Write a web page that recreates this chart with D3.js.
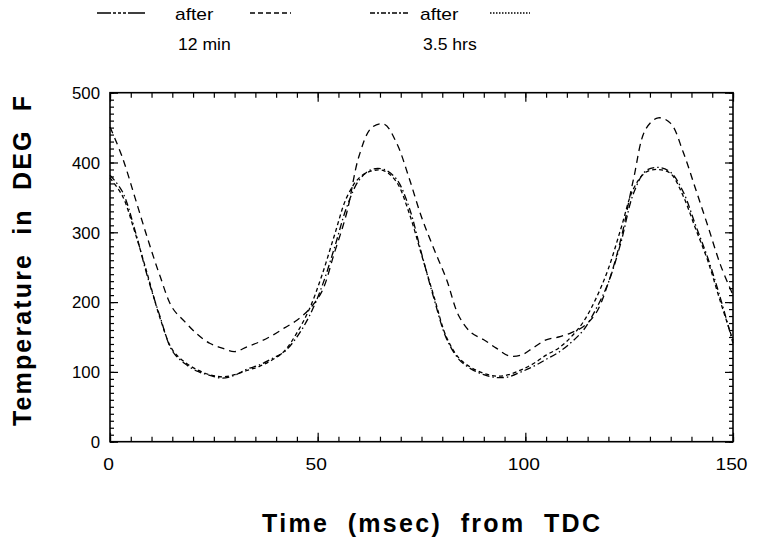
<!DOCTYPE html>
<html><head><meta charset="utf-8">
<script src="https://cdn.jsdelivr.net/npm/d3@7"></script>
<style>body{margin:0;background:#fff}svg{display:block}</style>
</head><body>
<svg id="c" width="757" height="545"></svg>
<script>
const times = [0,3,6,9,12,15,18,21,24,27,30,33,36,39,42,45,48,51,54,57,60,63,66,69,72,75,78,81,84,87,90,93,96,99,102,105,108,111,114,117,120,123,126,129,132,135,138,141,144,147,150];
const upperDashed = [451,407,350,292,238,192,172,154,141,134,129,136,143,152,163,174,190,215,270,328,410,450,455,428,378,322,276,233,180,156,146,134,123,124,135,146,150,156,165,184,228,290,375,448,464,456,415,362,308,253,210];
const lowerDashDot = [382,358,303,237,180,130,112,101,95,91,95,104,110,119,129,150,180,222,277,336,375,390,390,376,336,270,205,148,118,104,96,92,93,100,108,118,128,142,160,190,228,285,355,388,393,386,358,310,262,205,141];
const lowerDashed = [378,352,300,240,178,132,114,103,96,93,96,102,108,117,130,156,190,238,295,350,378,388,388,372,328,268,208,150,120,106,98,94,96,103,112,124,134,150,172,205,248,305,362,386,390,384,352,305,258,200,145];
const xTicks = [0,50,100,150];
const yTicks = [0,100,200,300,400,500];
const xTitle = "Time  (msec)  from  TDC";
const yTitle = "Temperature  in  DEG  F";
const legendTop = ["after","after"];
const legendBottom = ["12 min","3.5 hrs"];

const svg = d3.select("#c");
const x = d3.scaleLinear().domain([0,150]).range([110,733]);
const y = d3.scaleLinear().domain([0,500]).range([441.7,92.7]);
const L = 110, R = 733, T = 92.7, B = 441.7;
const FONT = "Liberation Sans, Arial, sans-serif";

svg.append("rect").attr("x",L).attr("y",T).attr("width",R-L).attr("height",B-T)
  .attr("fill","none").attr("stroke","#000").attr("stroke-width",1.6);

const minorX = d3.range(0,151,5), minorY = d3.range(0,501,10);
function axisStyle(g){ g.select(".domain").remove(); g.selectAll("line").attr("stroke","#000").attr("stroke-width",1.2); }
svg.append("g").attr("transform",`translate(0,${B})`).call(d3.axisBottom(x).tickValues(minorX).tickSize(-5).tickFormat("")).call(axisStyle);
svg.append("g").attr("transform",`translate(0,${T})`).call(d3.axisTop(x).tickValues(minorX).tickSize(-5).tickFormat("")).call(axisStyle);
svg.append("g").attr("transform",`translate(${L},0)`).call(d3.axisLeft(y).tickValues(minorY).tickSize(-4).tickFormat("")).call(axisStyle);
svg.append("g").attr("transform",`translate(${R},0)`).call(d3.axisRight(y).tickValues(minorY).tickSize(-4).tickFormat("")).call(axisStyle);

const xa = svg.append("g").attr("transform",`translate(0,${B})`)
  .call(d3.axisBottom(x).tickValues(xTicks).tickSize(-9).tickPadding(0).tickFormat(d3.format("d"))).call(axisStyle);
xa.selectAll("text").attr("font-family",FONT).attr("font-size",16)
  .attr("fill","#000").attr("y",0).attr("dy",0).attr("transform","translate(-2,28) scale(1.2,1)");
const ya = svg.append("g").attr("transform",`translate(${L},0)`)
  .call(d3.axisLeft(y).tickValues(yTicks).tickSize(-8).tickPadding(0).tickFormat(d3.format("d"))).call(axisStyle);
ya.selectAll("text").attr("font-family",FONT).attr("font-size",16)
  .attr("fill","#000").attr("x",0).attr("dy","0.36em").attr("transform","translate(-10,0) scale(1.05,1)");
svg.append("g").attr("transform",`translate(0,${T})`).call(d3.axisTop(x).tickValues(xTicks).tickSize(-9).tickFormat("")).call(axisStyle);
svg.append("g").attr("transform",`translate(${R},0)`).call(d3.axisRight(y).tickValues(yTicks).tickSize(-8).tickFormat("")).call(axisStyle);

const line = d3.line().x((d,i)=>x(times[i])).y(d=>y(d)).curve(d3.curveCatmullRom.alpha(0.5));
const series = [
  {v: upperDashed, dash:"7,5"},
  {v: lowerDashDot, dash:"7,3,1.5,3"},
  {v: lowerDashed, dash:"4,3"}
];
svg.append("g").selectAll("path").data(series).join("path")
  .attr("d",d=>line(d.v)).attr("fill","none").attr("stroke","#000")
  .attr("stroke-width",1.3).attr("stroke-dasharray",d=>d.dash);

svg.append("text").attr("x",262).attr("y",532)
  .attr("font-family",FONT).attr("font-weight","bold").attr("font-size",25)
  .attr("textLength",338).attr("lengthAdjust","spacing").style("white-space","pre").text(xTitle);
svg.append("text").attr("transform","translate(31,426) rotate(-90)")
  .attr("font-family",FONT).attr("font-weight","bold").attr("font-size",25)
  .attr("textLength",330).attr("lengthAdjust","spacing").style("white-space","pre").text(yTitle);

const lg = svg.append("g").attr("stroke","#000").attr("stroke-width",1.6).attr("fill","none");
const samples = [
  {x1:97,x2:145,dash:"14,2,3,2,3,2,3,2,20"},
  {x1:250,x2:291,dash:"5,3"},
  {x1:370,x2:410,dash:"5,2,2,2"},
  {x1:490,x2:530,dash:"1.5,1.5"}
];
lg.selectAll("line").data(samples).join("line")
  .attr("x1",d=>d.x1).attr("x2",d=>d.x2).attr("y1",13).attr("y2",13).attr("stroke-dasharray",d=>d.dash);
const legX = [175,420];
svg.append("g").selectAll("text").data(legendTop).join("text")
  .attr("transform",(d,i)=>`translate(${legX[i]},20) scale(1.2,1)`)
  .attr("font-family",FONT).attr("font-size",16).text(d=>d);
svg.append("g").selectAll("text").data(legendBottom).join("text")
  .attr("transform",(d,i)=>`translate(${legX[i]+3},50) scale(1.1,1)`)
  .attr("font-family",FONT).attr("font-size",16).text(d=>d);
</script>
</body></html>
